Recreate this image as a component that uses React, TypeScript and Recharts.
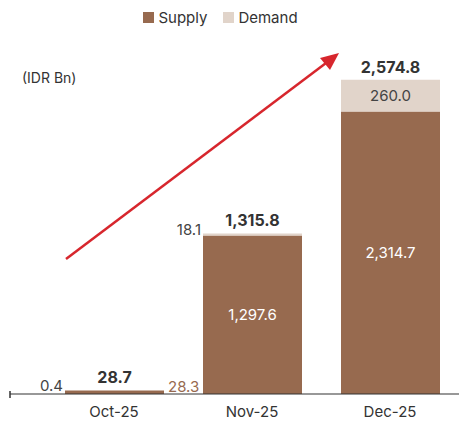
import { BarChart, Bar, XAxis, YAxis, Legend, LabelList } from "recharts";

const months = ["Oct-25", "Nov-25", "Dec-25"];
const supply = [28.3, 1297.6, 2314.7];
const demand = [0.4, 18.1, 260.0];
const totals = [28.7, 1315.8, 2574.8];

const data = months.map((m, i) => ({ month: m, supply: supply[i], demand: demand[i], total: totals[i] }));

const SUPPLY = "#976A4F";
const DEMAND = "#E1D4CA";
const TEXT = "#333333";
const FONT = "Inter, 'Noto Sans', sans-serif";

const fmt = (v: number) =>
  v.toLocaleString("en-US", { minimumFractionDigits: 1, maximumFractionDigits: 1 });

function SupplyLabel(props: any) {
  const { x, y, width, height, value } = props;
  if (height >= 20) {
    return (
      <text x={x + width / 2} y={y + height / 2} textAnchor="middle" dominantBaseline="central" fill="#ffffff" fontSize={15} fontFamily={FONT}>
        {fmt(value)}
      </text>
    );
  }
  return (
    <text x={x + width + 4} y={y + height / 2 - 6} textAnchor="start" dominantBaseline="central" fill={SUPPLY} fontSize={15} fontFamily={FONT}>
      {fmt(value)}
    </text>
  );
}

function DemandLabel(props: any) {
  const { x, y, width, height, value } = props;
  if (height >= 20) {
    return (
      <text x={x + width / 2} y={y + height / 2} textAnchor="middle" dominantBaseline="central" fill="#444444" fontSize={15} fontFamily={FONT}>
        {fmt(value)}
      </text>
    );
  }
  return (
    <text x={x - 2} y={y + height / 2 - 5} textAnchor="end" dominantBaseline="central" fill="#444444" fontSize={15} fontFamily={FONT}>
      {fmt(value)}
    </text>
  );
}

function TotalLabel(props: any) {
  const { x, y, width, index } = props;
  return (
    <text x={x + width / 2} y={y - 13} textAnchor="middle" dominantBaseline="central" fill={TEXT} fontSize={16} fontWeight={700} fontFamily={FONT}>
      {fmt(totals[index])}
    </text>
  );
}

function MonthTick(props: any) {
  const { x, y, payload } = props;
  return (
    <text x={x} y={y} dy={15} textAnchor="middle" fill={TEXT} fontSize={15} fontFamily={FONT}>
      {payload.value}
    </text>
  );
}

function LegendContent() {
  const items = [
    { name: "Supply", color: SUPPLY },
    { name: "Demand", color: DEMAND },
  ];
  return (
    <div style={{ display: "flex", justifyContent: "center", marginLeft: -12, fontFamily: FONT, fontSize: 15, color: TEXT }}>
      {items.map((it) => (
        <div key={it.name} style={{ display: "flex", alignItems: "center", marginRight: 16 }}>
          <span style={{ display: "inline-block", width: 11, height: 11, background: it.color, marginRight: 4 }} />
          <span>{it.name}</span>
        </div>
      ))}
    </div>
  );
}

export default function App() {
  return (
    <div style={{ position: "absolute", left: 0, top: 0, width: 459, height: 422 }}>
      <BarChart width={459} height={422} data={data} margin={{ top: 10, right: 0, left: 10, bottom: 0 }}>
        <Legend verticalAlign="top" height={30} content={<LegendContent />} wrapperStyle={{ top: 8 }} />
        <XAxis
          dataKey="month"
          padding={{ left: 35, right: 0 }}
          height={28}
          axisLine={{ stroke: TEXT, strokeWidth: 1.2 }}
          tickLine={false}
          tick={<MonthTick />}
        />
        <YAxis hide domain={[0, 2900]} />
        <Bar dataKey="supply" name="Supply" stackId="a" fill={SUPPLY} barSize={99} isAnimationActive={false}>
          <LabelList dataKey="supply" content={<SupplyLabel />} />
        </Bar>
        <Bar dataKey="demand" name="Demand" stackId="a" fill={DEMAND} barSize={99} isAnimationActive={false}>
          <LabelList dataKey="demand" content={<DemandLabel />} />
          <LabelList dataKey="total" content={<TotalLabel />} />
        </Bar>
      </BarChart>
      <svg width={459} height={422} style={{ position: "absolute", left: 0, top: 0, pointerEvents: "none" }}>
        <line x1={10} y1={391} x2={10} y2={398} stroke={TEXT} strokeWidth={1.5} />
        <text x={22} y={83} fill={TEXT} fontSize={14} fontFamily={FONT}>(IDR Bn)</text>
        <line x1={66} y1={259} x2={330} y2={60} stroke="#D7262D" strokeWidth={2.5} />
        <polygon points="339,53 320,58 330,70" fill="#D7262D" />
      </svg>
    </div>
  );
}
